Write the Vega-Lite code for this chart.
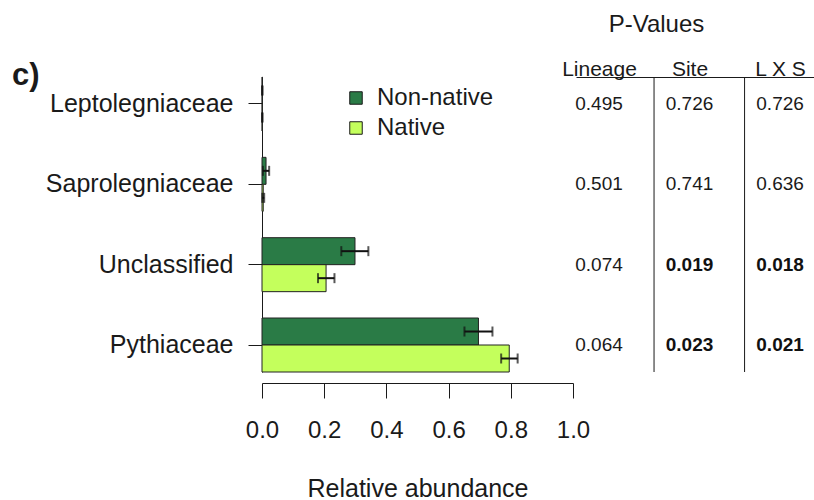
{
  "$schema": "https://vega.github.io/schema/vega-lite/v6.json",
  "width": 553,
  "height": 295,
  "padding": {"left": 11, "top": 12, "right": 0, "bottom": 0},
  "background": "white",
  "config": {
    "view": {"stroke": null},
    "font": "Liberation Sans",
    "axis": {
      "grid": false,
      "domainColor": "#1a1a1a",
      "tickColor": "#1a1a1a",
      "labelColor": "#1a1a1a",
      "titleColor": "#1a1a1a",
      "labelFont": "Liberation Sans",
      "titleFont": "Liberation Sans",
      "titleFontWeight": "normal"
    }
  },
  "datasets": {
    "abundance": [
      {"family": "Leptolegniaceae", "group": "Non-native", "value": 0.001, "lo": 0.0, "hi": 0.002},
      {"family": "Leptolegniaceae", "group": "Native", "value": 0.001, "lo": 0.0, "hi": 0.002},
      {"family": "Saprolegniaceae", "group": "Non-native", "value": 0.013, "lo": 0.003, "hi": 0.023},
      {"family": "Saprolegniaceae", "group": "Native", "value": 0.004, "lo": 0.001, "hi": 0.007},
      {"family": "Unclassified", "group": "Non-native", "value": 0.299, "lo": 0.255, "hi": 0.342},
      {"family": "Unclassified", "group": "Native", "value": 0.206, "lo": 0.18, "hi": 0.233},
      {"family": "Pythiaceae", "group": "Non-native", "value": 0.696, "lo": 0.651, "hi": 0.741},
      {"family": "Pythiaceae", "group": "Native", "value": 0.795, "lo": 0.769, "hi": 0.822}
    ],
    "pvalues": [
      {"family": "Leptolegniaceae", "test": "Lineage", "p": 0.495},
      {"family": "Leptolegniaceae", "test": "Site", "p": 0.726},
      {"family": "Leptolegniaceae", "test": "L X S", "p": 0.726},
      {"family": "Saprolegniaceae", "test": "Lineage", "p": 0.501},
      {"family": "Saprolegniaceae", "test": "Site", "p": 0.741},
      {"family": "Saprolegniaceae", "test": "L X S", "p": 0.636},
      {"family": "Unclassified", "test": "Lineage", "p": 0.074},
      {"family": "Unclassified", "test": "Site", "p": 0.019},
      {"family": "Unclassified", "test": "L X S", "p": 0.018},
      {"family": "Pythiaceae", "test": "Lineage", "p": 0.064},
      {"family": "Pythiaceae", "test": "Site", "p": 0.023},
      {"family": "Pythiaceae", "test": "L X S", "p": 0.021}
    ]
  },
  "layer": [
    {
      "data": {"name": "abundance"},
      "encoding": {
        "y": {
          "field": "family", "type": "nominal",
          "scale": {"domain": ["Leptolegniaceae", "Saprolegniaceae", "Unclassified", "Pythiaceae"], "paddingInner": 0.328, "paddingOuter": 0},
          "axis": {"title": "c)", "titleAngle": 0, "titleFontSize": 31, "titleFontWeight": "bold", "titleX": -223, "titleY": 7, "titleAlign": "right", "titleBaseline": "alphabetic", "labelFontSize": 25, "labelPadding": 15, "labelLimit": 400, "tickSize": 14, "domainWidth": 1}
        },
        "yOffset": {"field": "group", "type": "nominal", "scale": {"domain": ["Non-native", "Native"], "paddingInner": 0, "paddingOuter": 0}}
      },
      "layer": [
        {
          "mark": {"type": "bar", "stroke": "#222222", "strokeWidth": 1},
          "encoding": {
            "x": {
              "field": "value", "type": "quantitative",
              "scale": {"domain": [0, 1], "range": [0, 311], "nice": false},
              "axis": {"orient": "bottom", "offset": 11, "values": [0, 0.2, 0.4, 0.6, 0.8, 1], "format": ".1f", "labelFlush": false, "tickSize": 15, "labelFontSize": 24, "labelPadding": 20, "title": "Relative abundance", "titleFontSize": 25, "titlePadding": 34, "domainWidth": 1}
            },
            "color": {
              "field": "group", "type": "nominal",
              "scale": {"domain": ["Non-native", "Native"], "range": ["#2a7b46", "#c4ff5c"]},
              "legend": {"orient": "none", "legendX": 82, "legendY": 9, "title": null, "symbolType": "square", "symbolSize": 156, "symbolStrokeColor": "#1a1a1a", "symbolStrokeWidth": 1, "labelFontSize": 24, "labelOffset": 9, "rowPadding": 6, "padding": 0, "labelColor": "#1a1a1a"}
            }
          }
        },
        {
          "mark": {"type": "rule", "strokeWidth": 2, "color": "#111111"},
          "encoding": {
            "x": {"field": "lo", "type": "quantitative", "scale": {"domain": [0, 1], "range": [0, 311], "nice": false}},
            "x2": {"field": "hi"}
          }
        },
        {
          "mark": {"type": "tick", "orient": "vertical", "size": 10, "thickness": 2, "color": "#111111"},
          "encoding": {
            "x": {"field": "lo", "type": "quantitative", "scale": {"domain": [0, 1], "range": [0, 311], "nice": false}}
          }
        },
        {
          "mark": {"type": "tick", "orient": "vertical", "size": 10, "thickness": 2, "color": "#111111"},
          "encoding": {
            "x": {"field": "hi", "type": "quantitative", "scale": {"domain": [0, 1], "range": [0, 311], "nice": false}}
          }
        }
      ]
    },
    {
      "data": {"name": "pvalues"},
      "layer": [
        {
          "transform": [{"filter": "datum.p >= 0.05"}],
          "mark": {"type": "text", "fontSize": 19, "color": "#1a1a1a"},
          "encoding": {
            "x": {
              "field": "test", "type": "nominal",
              "scale": {"type": "point", "domain": ["Lineage", "Site", "L X S"], "range": [314, 553], "padding": 0.32, "align": 0.397},
              "axis": {"orient": "top", "title": "P-Values", "titleFontSize": 24, "titleX": 394, "titleY": -46, "titleBaseline": "alphabetic", "titleAlign": "center", "ticks": false, "labelFontSize": 21, "labelPadding": 2, "labelBaseline": "alphabetic", "labelAngle": 0, "domainWidth": 1}
            },
            "y": {"field": "family", "type": "nominal", "scale": {"domain": ["Leptolegniaceae", "Saprolegniaceae", "Unclassified", "Pythiaceae"], "paddingInner": 0.328, "paddingOuter": 0}},
            "text": {"field": "p", "type": "quantitative", "format": ".3f"}
          }
        },
        {
          "transform": [{"filter": "datum.p < 0.05"}],
          "mark": {"type": "text", "fontSize": 19, "fontWeight": "bold", "color": "#111111"},
          "encoding": {
            "x": {"field": "test", "type": "nominal", "scale": {"type": "point", "domain": ["Lineage", "Site", "L X S"], "range": [314, 553], "padding": 0.32, "align": 0.397}},
            "y": {"field": "family", "type": "nominal", "scale": {"domain": ["Leptolegniaceae", "Saprolegniaceae", "Unclassified", "Pythiaceae"], "paddingInner": 0.328, "paddingOuter": 0}},
            "text": {"field": "p", "type": "quantitative", "format": ".3f"}
          }
        },
        {
          "transform": [{"filter": "datum.family == 'Pythiaceae' && datum.test != 'Lineage'"}],
          "mark": {"type": "rule", "xOffset": -35.5, "color": "#1a1a1a", "strokeWidth": 1},
          "encoding": {
            "x": {"field": "test", "type": "nominal", "scale": {"type": "point", "domain": ["Lineage", "Site", "L X S"], "range": [314, 553], "padding": 0.32, "align": 0.397}}
          }
        }
      ]
    }
  ],
  "resolve": {"scale": {"x": "independent"}, "axis": {"x": "independent"}}
}
